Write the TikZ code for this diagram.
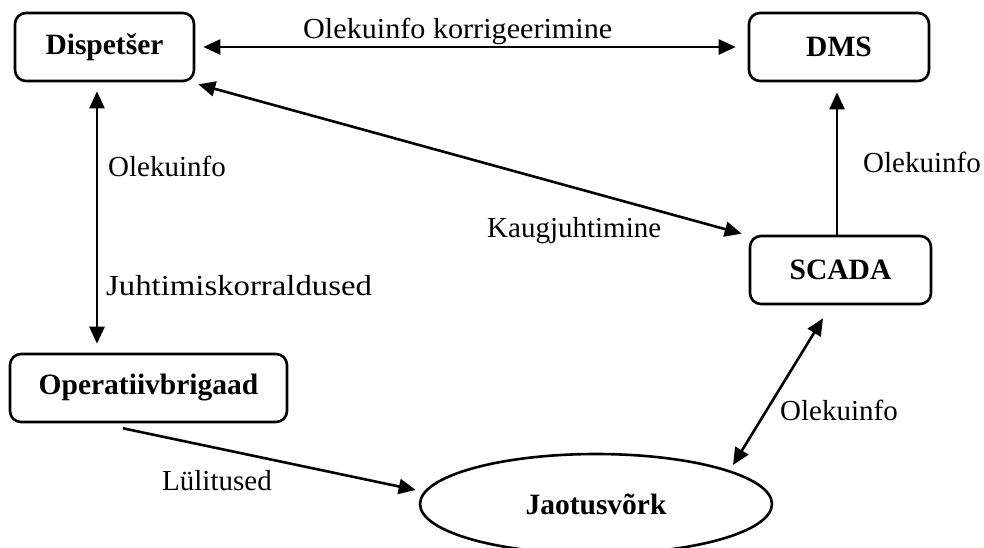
\documentclass[tikz,border=0pt]{standalone}
\usepackage{fontspec}
\setmainfont{Liberation Serif}
\usetikzlibrary{arrows.meta,shapes.geometric}
\tikzset{
  box/.style={draw, line width=2.6pt, rounded corners=11pt, inner sep=0pt,
    font=\fontsize{29.5}{33}\selectfont\bfseries},
  oval/.style={draw, ellipse, line width=2.6pt, inner sep=0pt,
    font=\fontsize{29.5}{33}\selectfont\bfseries},
  conn/.style={line width=2.6pt, arrows={-Triangle[length=17pt,width=15pt]}},
  biconn/.style={line width=2.6pt, arrows={Triangle[length=17pt,width=15pt]-Triangle[length=17pt,width=15pt]}},
  lbl/.style={inner sep=0pt, anchor=base west, font=\fontsize{29}{33}\selectfont}
}
\begin{document}
\begin{tikzpicture}[x=1pt,y=-1pt]
\clip (0,0) rectangle (984,547);
\fill[white] (0,0) rectangle (984,547);
\node[box, minimum width=179pt, minimum height=68pt] (disp) at (104.5,47) {Dispetšer};
\node[box, minimum width=180pt, minimum height=68pt] (dms) at (839,47) {DMS};
\node[box, minimum width=181pt, minimum height=68pt] (scada) at (840.5,270) {SCADA};
\node[box, minimum width=277pt, minimum height=68pt] (ob) at (148.5,388) {Operatiivbrigaad};
\node[oval, minimum width=352pt, minimum height=100pt] (jv) at (596,504) {Jaotusvõrk};
% connectors
\draw[biconn] ([shift={(8,0)}]disp.east) -- ([shift={(-12,0)}]dms.west);
\draw[biconn] ([shift={(3,2)}]disp.south east) -- ([shift={(-7,-1)}]scada.north west);
\draw[biconn] ([shift={(-7.5,9)}]disp.south) -- ([shift={(-51.5,-9)}]ob.north);
\draw[conn] ([shift={(-3.5,0)}]scada.north) -- ([shift={(-2,10)}]dms.south);
\draw[conn] ([shift={(-25.5,5)}]ob.south) -- ([shift={(-3,-14)}]jv.west);
\draw[biconn] ([shift={(137,-39)}]jv.center) -- ([shift={(-17.5,13)}]scada.south);
% labels
\node[lbl] (l1) at (303,38) {\addfontfeatures{FakeStretch=1.04}Olekuinfo korrigeerimine};
\node[lbl] (l2) at (487,237) {Kaugjuhtimine};
\node[lbl] (l3) at (108,176) {Olekuinfo};
\node[lbl] (l4) at (106,295) {\addfontfeatures{FakeStretch=1.13}Juhtimiskorraldused};
\node[lbl] (l5) at (863,172) {Olekuinfo};
\node[lbl] (l6) at (162,490) {Lülitused};
\node[lbl] (l7) at (780,420) {Olekuinfo};
\end{tikzpicture}
\end{document}
